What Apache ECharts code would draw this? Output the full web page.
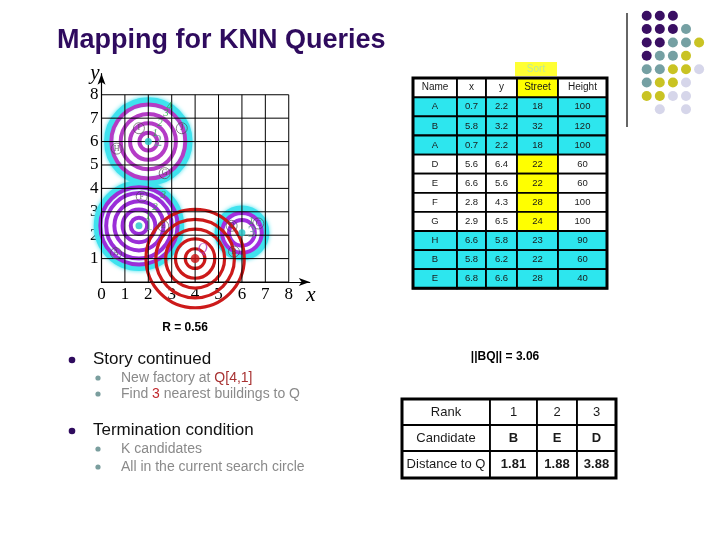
<!DOCTYPE html>
<html>
<head>
<meta charset="utf-8">
<script src="https://cdn.jsdelivr.net/npm/echarts@6/dist/echarts.min.js"></script>
<style>html,body{margin:0;padding:0;background:#fff}#main{width:720px;height:540px}</style>
</head>
<body>
<div id="main"></div>
<script>
// grid ticks
var axisTicks = [0, 1, 2, 3, 4, 5, 6, 7, 8];

// clusters (center, search rings, outer halo)
var clusterCenters = [[1.6, 2.4], [2, 6], [6, 2.1]];
var clusterLabels = ['1', '2', '3'];
var clusterHalo = [1.78, 1.74, 1.02];
var clusterRings = [
  [0.35, 0.7, 1.05, 1.4, 1.65],
  [0.38, 0.78, 1.18, 1.58],
  [0.55, 0.85]
];

// query point and its search circles
var queryPoint = [4, 1];
var queryRings = [0.42, 0.84, 1.26, 1.68, 2.1];

// buildings
var buildingNames = ['A', 'B', 'C', 'D', 'E', 'F', 'G', 'H', 'I', 'J'];
var buildingPos = [[0.62, 1.23], [5.66, 1.3], [6.7, 2.5], [5.56, 2.4], [2.64, 2.39],
                   [1.72, 3.65], [2.7, 4.65], [0.65, 5.7], [1.6, 6.57], [3.43, 6.57]];

// green step numbers along the search
var stepLabels = ['1', '2', '3', '4', '1', '2', '3', '1'];
var stepPos = [[2.29, 6.35], [2.5, 6.78], [2.76, 7.2], [2.9, 7.5],
               [2.0, 2.8], [2.29, 3.2], [2.64, 3.72], [6.4, 2.6]];

// building table
var tableHeader = ['Name', 'x', 'y', 'Street', 'Height'];
var tableName = ['A', 'B', 'A', 'D', 'E', 'F', 'G', 'H', 'B', 'E'];
var tableX = ['0.7', '5.8', '0.7', '5.6', '6.6', '2.8', '2.9', '6.6', '5.8', '6.8'];
var tableY = ['2.2', '3.2', '2.2', '6.4', '5.6', '4.3', '6.5', '5.8', '6.2', '6.6'];
var tableStreet = ['18', '32', '18', '22', '22', '28', '24', '23', '22', '28'];
var tableHeight = ['100', '120', '100', '60', '60', '100', '100', '90', '60', '40'];

// rank table
var rankRowLabels = ['Rank', 'Candidate', 'Distance to Q'];
var rankNumbers = ['1', '2', '3'];
var rankCandidates = ['B', 'E', 'D'];
var rankDistances = ['1.81', '1.88', '3.88'];

// decorative dot pattern
var dotPattern = ['PPP', 'PPPT', 'PPTTY', 'PTTY', 'TTYYL', 'TYYL', 'YYLL', '.L.L'];

var chart = echarts.init(document.getElementById('main'));

function ringSeries(rows, color, width, z, glow) {
  return {
    type: 'custom',
    coordinateSystem: 'cartesian2d',
    clip: false,
    silent: true,
    z: z,
    data: rows,
    renderItem: function (params, api) {
      var c = api.coord([api.value(0), api.value(1)]);
      var r = api.size([api.value(2), 0])[0];
      return {
        type: 'circle',
        shape: {cx: c[0], cy: c[1], r: r},
        style: {fill: 'none', stroke: color, lineWidth: width, shadowBlur: glow || 0, shadowColor: color}
      };
    }
  };
}

var haloData = clusterCenters.map(function (c, i) { return [c[0], c[1], clusterHalo[i]]; });
var ringColors = ['#9a2ed8', '#b43cc6', '#a22ee0'];
var ringSeriesList = clusterCenters.map(function (c, i) {
  return ringSeries(clusterRings[i].map(function (r) { return [c[0], c[1], r]; }), ringColors[i], 4, 3);
});
var queryData = queryRings.map(function (r) { return [queryPoint[0], queryPoint[1], r]; });

// ---- graphic: title, tables, text
var graphics = [];

graphics.push({type: 'text', x: 57, y: 41, style: {
  text: 'Mapping for KNN Queries', font: 'bold 27px "Liberation Sans", Arial', fill: '#2f0b5e', verticalAlign: 'middle'}});

// dots top right
var dotColors = {P: '#3a0f63', T: '#75a0a3', Y: '#c9c323', L: '#d6d6ea'};
dotPattern.forEach(function (row, ri) {
  row.split('').forEach(function (ch, ci) {
    if (!dotColors[ch]) return;
    graphics.push({type: 'circle', shape: {cx: 646.7 + ci * 13.1, cy: 15.7 + ri * 13.37, r: 5},
      style: {fill: dotColors[ch]}});
  });
});
graphics.push({type: 'line', shape: {x1: 627, y1: 13, x2: 627, y2: 127}, style: {stroke: '#333', lineWidth: 1.5}});

// sort tag
graphics.push({type: 'rect', shape: {x: 515, y: 62, width: 42, height: 14}, style: {fill: '#ffff33'}});
graphics.push({type: 'text', x: 536, y: 69, style: {text: 'Sort', font: '10px "Liberation Sans", Arial',
  fill: '#bde79a', align: 'center', verticalAlign: 'middle'}});

// building table
var colEdges = [413, 457, 486, 517, 558, 607];
var tTop = 78, headH = 19.3, rowH = 19.1;
var tableCols = [tableName, tableX, tableY, tableStreet, tableHeight];
var sortedRows = [3, 4, 5, 6];
function cell(x0, y0, w, h, fill, text, font, lw) {
  graphics.push({type: 'rect', shape: {x: x0, y: y0, width: w, height: h},
    style: {fill: fill, stroke: '#000', lineWidth: lw || 1.8}});
  graphics.push({type: 'text', x: x0 + w / 2, y: y0 + h / 2, style: {text: text, font: font,
    fill: '#1a1a1a', align: 'center', verticalAlign: 'middle'}});
}
tableHeader.forEach(function (h, ci) {
  cell(colEdges[ci], tTop, colEdges[ci + 1] - colEdges[ci], headH, ci === 3 ? '#ffff00' : '#fff',
    h, '10px "Liberation Sans", Arial');
});
tableName.forEach(function (n, ri) {
  var y0 = tTop + headH + ri * rowH;
  var sorted = sortedRows.indexOf(ri) >= 0;
  tableCols.forEach(function (col, ci) {
    var fill = sorted ? (ci === 3 ? '#ffff00' : '#fff') : '#2de6ee';
    cell(colEdges[ci], y0, colEdges[ci + 1] - colEdges[ci], rowH, fill, col[ri], '9.5px "Liberation Sans", Arial');
  });
});
graphics.push({type: 'rect', shape: {x: colEdges[0], y: tTop, width: colEdges[5] - colEdges[0], height: headH + 10 * rowH},
  style: {fill: 'none', stroke: '#000', lineWidth: 3}});

// rank table
var rCols = [402, 490, 537, 577, 616];
var rRows = [399, 425, 451, 478];
var rankCols = [rankNumbers, rankCandidates, rankDistances];
rankRowLabels.forEach(function (lab, ri) {
  var y0 = rRows[ri], h = rRows[ri + 1] - rRows[ri];
  cell(rCols[0], y0, rCols[1] - rCols[0], h, '#fff', lab, '13px "Liberation Sans", Arial');
  rankNumbers.forEach(function (v, ci) {
    cell(rCols[ci + 1], y0, rCols[ci + 2] - rCols[ci + 1], h, '#fff', rankCols[ri][ci],
      (ri === 0 ? '' : 'bold ') + '13px "Liberation Sans", Arial');
  });
});
graphics.push({type: 'rect', shape: {x: rCols[0], y: rRows[0], width: rCols[4] - rCols[0], height: rRows[3] - rRows[0]},
  style: {fill: 'none', stroke: '#000', lineWidth: 3}});

graphics.push({type: 'text', x: 185, y: 328, style: {text: 'R = 0.56', font: 'bold 12px "Liberation Sans", Arial',
  fill: '#000', align: 'center', verticalAlign: 'middle'}});
graphics.push({type: 'text', x: 505, y: 357, style: {text: '||BQ|| = 3.06', font: 'bold 12px "Liberation Sans", Arial',
  fill: '#000', align: 'center', verticalAlign: 'middle'}});

// bullet text
function bullet(x, y, r, color) {
  graphics.push({type: 'circle', shape: {cx: x, cy: y, r: r}, style: {fill: color}});
}
var mainFont = '17px "Liberation Sans", Arial';
var subFont = '14px "Liberation Sans", Arial';
var grey = '#8a8a8a';
bullet(72, 360, 3.3, '#2f0b5e');
graphics.push({type: 'text', x: 93, y: 359, style: {text: 'Story continued', font: mainFont, fill: '#111', verticalAlign: 'middle'}});
bullet(98, 378, 2.6, '#7a9e9e');
graphics.push({type: 'text', x: 121, y: 378, style: {text: '{g|New factory at }{r|Q[4,1]}', verticalAlign: 'middle',
  rich: {g: {font: subFont, fill: grey}, r: {font: subFont, fill: '#a83232'}}}});
bullet(98, 394, 2.6, '#7a9e9e');
graphics.push({type: 'text', x: 121, y: 394, style: {text: '{g|Find }{r|3}{g| nearest buildings to Q}', verticalAlign: 'middle',
  rich: {g: {font: subFont, fill: grey}, r: {font: subFont, fill: '#c0282d'}}}});
bullet(72, 431, 3.3, '#2f0b5e');
graphics.push({type: 'text', x: 93, y: 430, style: {text: 'Termination condition', font: mainFont, fill: '#111', verticalAlign: 'middle'}});
bullet(98, 449, 2.6, '#7a9e9e');
graphics.push({type: 'text', x: 121, y: 449, style: {text: 'K candidates', font: subFont, fill: grey, verticalAlign: 'middle'}});
bullet(98, 467, 2.6, '#7a9e9e');
graphics.push({type: 'text', x: 121, y: 467, style: {text: 'All in the current search circle', font: subFont, fill: grey, verticalAlign: 'middle'}});

var serif = '"Liberation Serif", "DejaVu Serif", serif';

chart.setOption({
  animation: false,
  backgroundColor: '#fff',
  grid: {left: 101.5, right: 410.2, top: 73.7, bottom: 258, containLabel: false},
  xAxis: {
    type: 'value', min: 0, max: 8.9, interval: 1,
    name: 'x', nameLocation: 'end', nameGap: 1,
    nameTextStyle: {fontFamily: serif, fontStyle: 'italic', fontSize: 21, color: '#000', align: 'center', verticalAlign: 'top', padding: [3, 0, 0, 0]},
    axisLine: {lineStyle: {color: '#000', width: 1.2}, symbol: ['none', 'arrow'], symbolSize: [6, 11]},
    axisTick: {show: false},
    splitLine: {show: false},
    axisLabel: {margin: 4, fontFamily: serif, fontSize: 17, color: '#000', showMaxLabel: false,
      formatter: function (v) { return v <= 8 ? v : ''; }}
  },
  yAxis: {
    type: 'value', min: 0, max: 8.9, interval: 1,
    name: 'y', nameLocation: 'end', nameGap: 0,
    nameTextStyle: {fontFamily: serif, fontStyle: 'italic', fontSize: 21, color: '#000', align: 'right', verticalAlign: 'middle', padding: [0, 2, 0, 0]},
    axisLine: {lineStyle: {color: '#000', width: 1.2}, symbol: ['none', 'arrow'], symbolSize: [6, 11]},
    axisTick: {show: false},
    splitLine: {show: false},
    axisLabel: {margin: 3, fontFamily: serif, fontSize: 17, color: '#000', showMaxLabel: false,
      formatter: function (v) { return v >= 1 && v <= 8 ? v : ''; }}
  },
  graphic: graphics,
  series: [
    ringSeries(haloData, '#3fe2ee', 7, 2, 4)
  ].concat(ringSeriesList).concat([
    ringSeries(queryData, '#cc1a1a', 3.2, 4),
    {
      // grid lines
      type: 'custom', coordinateSystem: 'cartesian2d', silent: true, z: 5, clip: false,
      data: axisTicks.map(function (t) { return [t, t]; }),
      renderItem: function (params, api) {
        var t = api.value(0);
        var a = api.coord([t, 0]), b = api.coord([t, 8]);
        var c = api.coord([0, t]), d = api.coord([8, t]);
        return {type: 'group', children: [
          {type: 'line', shape: {x1: a[0], y1: a[1], x2: b[0], y2: b[1]}, style: {stroke: '#000', lineWidth: 1}},
          {type: 'line', shape: {x1: c[0], y1: c[1], x2: d[0], y2: d[1]}, style: {stroke: '#000', lineWidth: 1}}
        ]};
      }
    },
    {
      type: 'scatter', z: 6, silent: true, symbolSize: 7,
      itemStyle: {color: '#22c6c8'},
      data: clusterCenters.map(function (c, i) { return {value: c, name: clusterLabels[i]}; }),
      label: {show: true, formatter: '{b}', fontFamily: serif, fontSize: 17, color: '#6e9e9e',
        position: 'right', distance: 2}
    },
    {
      type: 'scatter', z: 6, silent: true, symbolSize: 9,
      itemStyle: {color: '#cc1010'},
      data: [{value: queryPoint, name: 'Q'}],
      label: {show: true, formatter: '{b}', fontFamily: serif, fontStyle: 'italic', fontSize: 14, color: '#b040c0',
        position: [7, -12]}
    },
    {
      type: 'scatter', z: 6, silent: true, symbolSize: 11,
      itemStyle: {color: 'rgba(255,255,255,0)', borderColor: '#444', borderWidth: 0.8},
      data: buildingNames.map(function (n, i) { return {value: buildingPos[i], name: n}; }),
      label: {show: true, position: 'inside', formatter: '{b}', fontFamily: serif, fontSize: 8, color: '#444'}
    },
    {
      type: 'scatter', z: 6, silent: true, symbolSize: 0,
      data: stepLabels.map(function (n, i) { return {value: stepPos[i], name: n}; }),
      label: {show: true, position: 'inside', formatter: '{b}', fontFamily: serif, fontStyle: 'italic', fontSize: 11, color: '#2aa040'}
    }
  ])
});
</script>
</body>
</html>
